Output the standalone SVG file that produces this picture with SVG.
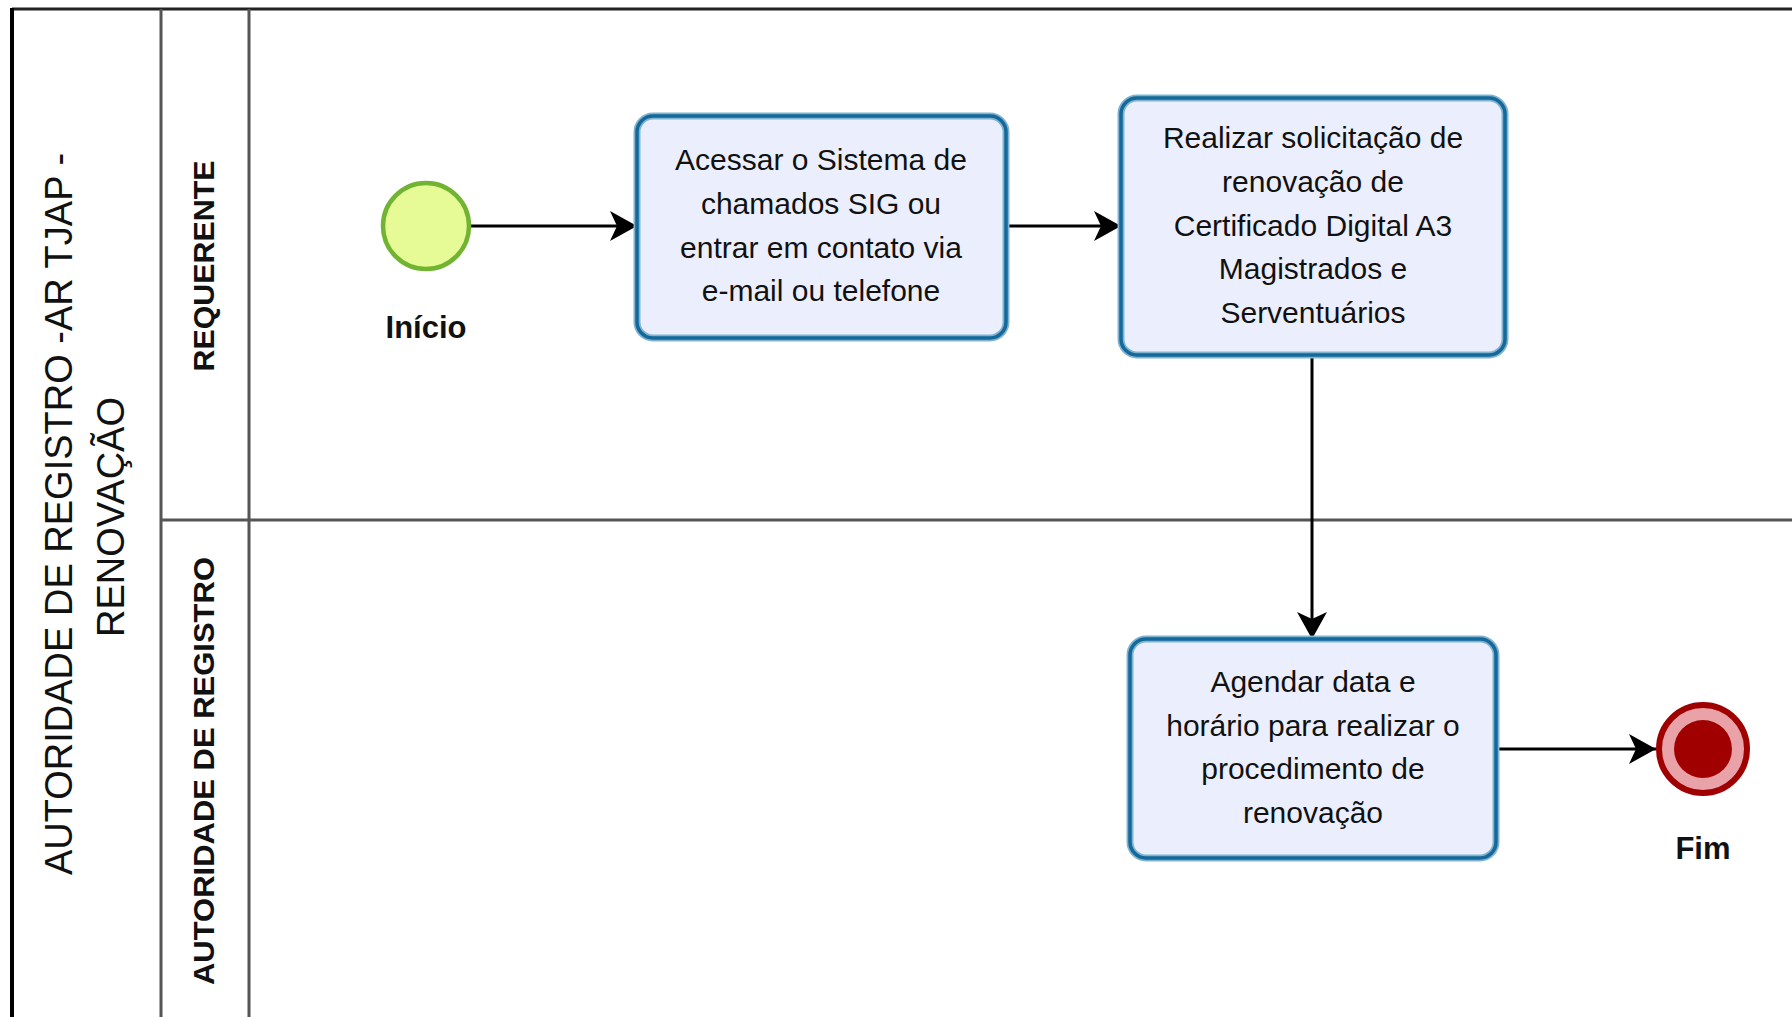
<svg xmlns="http://www.w3.org/2000/svg" width="1792" height="1017" viewBox="0 0 1792 1017">
<style>
.txt{font-family:"Liberation Sans",Arial,sans-serif;font-size:30px;fill:#111;text-anchor:middle}
.lbl{font-family:"Liberation Sans",Arial,sans-serif;font-size:31px;font-weight:bold;fill:#111;text-anchor:middle}
.lane{font-family:"Liberation Sans",Arial,sans-serif;font-size:30px;font-weight:bold;fill:#111;text-anchor:middle}
.pool{font-family:"Liberation Sans",Arial,sans-serif;font-size:38px;fill:#111;text-anchor:middle}
.taskO{fill:#ebeffd;stroke:#80b3d0;stroke-width:7}
.taskI{fill:none;stroke:#14699a;stroke-width:3.5}
.flow{fill:none;stroke:#000;stroke-width:3}
.sep{stroke:#555;stroke-width:3;fill:none}
</style>
<defs>
<marker id="arr" markerUnits="userSpaceOnUse" markerWidth="30" markerHeight="32" refX="27" refY="15" orient="auto">
<path d="M0,0 L27,15 L0,30 L7,15 Z" fill="#000"/>
</marker>
</defs>
<rect width="1792" height="1017" fill="#fff"/>
<g id="pool">
<line x1="12" y1="9" x2="1792" y2="9" stroke="#222" stroke-width="3"/>
<line x1="12" y1="8" x2="12" y2="1017" stroke="#000" stroke-width="4"/>
<line class="sep" x1="161" y1="9" x2="161" y2="1017"/>
<line class="sep" x1="249" y1="9" x2="249" y2="1017"/>
<line class="sep" x1="161" y1="520" x2="1792" y2="520"/>
<text class="pool" transform="translate(72,514) rotate(-90)">AUTORIDADE DE REGISTRO -AR TJAP -</text>
<text class="pool" transform="translate(124,517) rotate(-90)">RENOVAÇÃO</text>
</g>
<g id="lane-requerente">
<text class="lane" transform="translate(214,266) rotate(-90)" textLength="211" lengthAdjust="spacingAndGlyphs">REQUERENTE</text>
</g>
<g id="lane-autoridade">
<text class="lane" transform="translate(214,771) rotate(-90)" textLength="428" lengthAdjust="spacingAndGlyphs">AUTORIDADE DE REGISTRO</text>
</g>
<g id="connectors">
<line class="flow" x1="470" y1="226" x2="637" y2="226" marker-end="url(#arr)"/>
<line class="flow" x1="1006" y1="226" x2="1121" y2="226" marker-end="url(#arr)"/>
<line class="flow" x1="1312" y1="355" x2="1312" y2="639" marker-end="url(#arr)"/>
<line class="flow" x1="1496" y1="749" x2="1656" y2="749" marker-end="url(#arr)"/>
</g>
<g id="inicio">
<circle cx="426" cy="226" r="43" fill="#e6fb96" stroke="#70b432" stroke-width="4.5"/>
<text class="lbl" x="426" y="338">Início</text>
</g>
<g id="task-acessar">
<rect class="taskO" x="637" y="116" width="369" height="222" rx="16"/>
<rect class="taskI" x="637" y="116" width="369" height="222" rx="16"/>
<text class="txt" x="821" y="170">Acessar o Sistema de</text>
<text class="txt" x="821" y="214">chamados SIG ou</text>
<text class="txt" x="821" y="258">entrar em contato via</text>
<text class="txt" x="821" y="301">e-mail ou telefone</text>
</g>
<g id="task-realizar">
<rect class="taskO" x="1121" y="98" width="384" height="257" rx="16"/>
<rect class="taskI" x="1121" y="98" width="384" height="257" rx="16"/>
<text class="txt" x="1313" y="148">Realizar solicitação de</text>
<text class="txt" x="1313" y="192">renovação de</text>
<text class="txt" x="1313" y="236">Certificado Digital A3</text>
<text class="txt" x="1313" y="279">Magistrados e</text>
<text class="txt" x="1313" y="323">Serventuários</text>
</g>
<g id="task-agendar">
<rect class="taskO" x="1130" y="639" width="366" height="219" rx="16"/>
<rect class="taskI" x="1130" y="639" width="366" height="219" rx="16"/>
<text class="txt" x="1313" y="692">Agendar data e</text>
<text class="txt" x="1313" y="736">horário para realizar o</text>
<text class="txt" x="1313" y="779">procedimento de</text>
<text class="txt" x="1313" y="823">renovação</text>
</g>
<g id="fim">
<circle cx="1703" cy="749" r="44" fill="#e9a3a8" stroke="#a00000" stroke-width="6"/>
<circle cx="1703" cy="749" r="29" fill="#a00000"/>
<text class="lbl" x="1703" y="859">Fim</text>
</g>
</svg>
